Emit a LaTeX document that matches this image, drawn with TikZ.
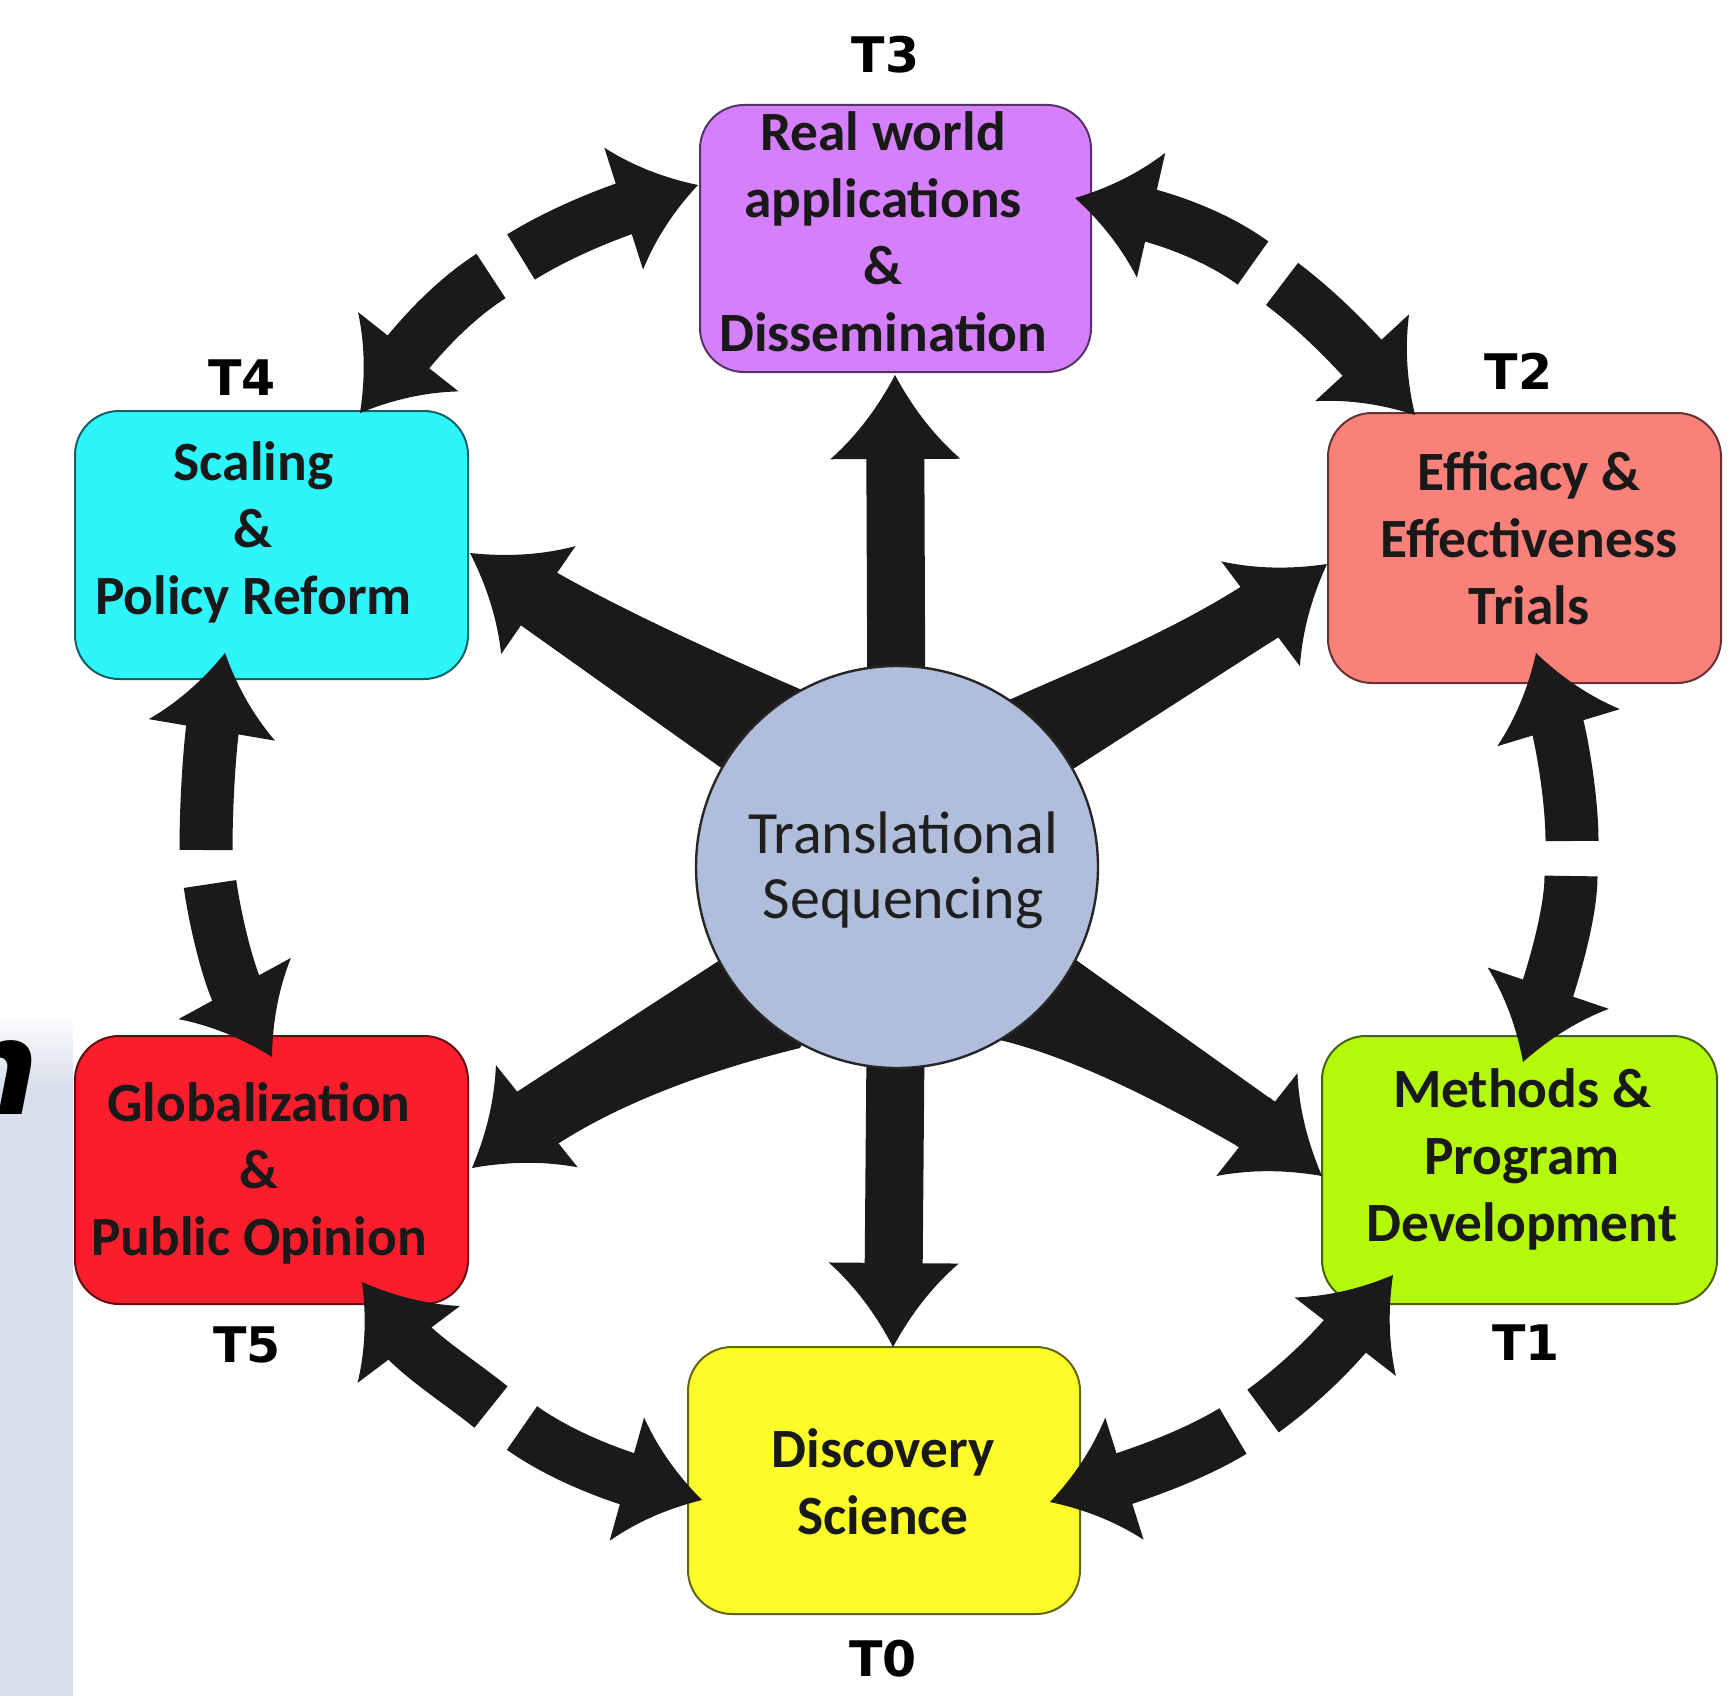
\documentclass[tikz,border=0pt]{standalone}
\usepackage{fontspec}
\setmainfont{Carlito}
\newfontfamily\tlabfont{DejaVu Sans}
\usetikzlibrary{arrows.meta}
\pgfdeclarelayer{boxlayer}
\pgfdeclarelayer{arrowlayer}
\pgfsetlayers{boxlayer,arrowlayer,main}
\definecolor{cpurple}{HTML}{D580FA}
\definecolor{ccyan}{HTML}{2EF5FA}
\definecolor{csalmon}{HTML}{FA807A}
\definecolor{cred}{HTML}{FA1E2D}
\definecolor{cgreen}{HTML}{B4F80A}
\definecolor{cyellow}{HTML}{FCFC28}
\definecolor{cblue}{HTML}{B0BEDC}
\definecolor{arrblk}{HTML}{1B191A}
\definecolor{sidebg}{HTML}{D8DFEA}
\pgfdeclarearrow{
  name = Swept,
  parameters = {\the\pgfarrowlength,\the\pgfarrowwidth},
  setup code = {
    \pgfarrowssettipend{0pt}
    \pgfarrowssetlineend{-.8\pgfarrowlength}
    \pgfarrowssetbackend{-\pgfarrowlength}
    \pgfarrowssavethe\pgfarrowlength
    \pgfarrowssavethe\pgfarrowwidth
  },
  drawing code = {
    \pgfpathmoveto{\pgfpointorigin}
    \pgfpathcurveto{\pgfpoint{-.35\pgfarrowlength}{.12\pgfarrowwidth}}{\pgfpoint{-.7\pgfarrowlength}{.28\pgfarrowwidth}}{\pgfpoint{-\pgfarrowlength}{.5\pgfarrowwidth}}
    \pgfpathlineto{\pgfpoint{-\pgfarrowlength}{-.5\pgfarrowwidth}}
    \pgfpathcurveto{\pgfpoint{-.7\pgfarrowlength}{-.28\pgfarrowwidth}}{\pgfpoint{-.35\pgfarrowlength}{-.12\pgfarrowwidth}}{\pgfpointorigin}
    \pgfpathclose
    \pgfusepathqfill
  },
  defaults = {length = 40pt, width = 64pt}
}
\newcommand\blines[1]{\begin{tabular}{@{}c@{}}#1\end{tabular}}
\tikzset{
  rbox/.style={draw=#1!40!black, fill=#1, line width=1pt, rounded corners=22pt, inner sep=0pt},
  btxt/.style={inner sep=0pt, text=black!90, font=\bfseries\fontsize{27.7}{33.5}\selectfont},
  ctxt/.style={inner sep=0pt, text=black!88, font=\fontsize{30}{32.5}\selectfont},
  tlab/.style={inner sep=0pt, text=black, font=\tlabfont\bfseries\fontsize{24.5}{28}\selectfont},
  outerarr/.style={color=arrblk, line width=26.5pt, -{Swept[length=39pt,width=64pt]}},
  cvert/.style={color=arrblk, line width=29pt, shorten <=-6pt, -{Swept[length=42pt,width=65pt]}},
  cdiag/.style={color=arrblk, line width=29pt, -{Swept[length=41.5pt,width=65.5pt]}},
  flare/.style={fill=arrblk},
}
\begin{document}
\begin{tikzpicture}[x=0.5pt,y=-0.5pt]
\useasboundingbox (0,0) rectangle (1728,1696);
\begin{pgfonlayer}{boxlayer}
  \fill[white] (0,0) rectangle (1728,1696);
  \fill[sidebg] (0,1089) rectangle (73,1696);
  \shade[top color=white, bottom color=sidebg] (0,1010) rectangle (73,1089);
  \node[rbox=cpurple, minimum width=195.5pt, minimum height=133.5pt] (t3) at (895.5,238.5) {};
  \node[rbox=ccyan, minimum width=196.5pt, minimum height=134pt] (t4) at (271.5,545) {};
  \node[rbox=csalmon, minimum width=196.5pt, minimum height=135pt] (t2) at (1524.5,548) {};
  \node[rbox=cred, minimum width=196.5pt, minimum height=134pt] (t5) at (271.5,1170) {};
  \node[rbox=cgreen, minimum width=197.5pt, minimum height=134pt] (t1) at (1519.5,1170) {};
  \node[rbox=cyellow, minimum width=196pt, minimum height=133.5pt] (t0) at (884,1480.5) {};
\end{pgfonlayer}

\node[circle, draw=black!85, line width=1.2pt, fill=cblue, minimum size=201pt, inner sep=0pt] (c) at (897,867) {};
\coordinate (cc) at (897,867);
\node[anchor=base east, inner sep=0pt, font=\tlabfont\bfseries\itshape\fontsize{66}{66}\selectfont] (nfrag) at (40,1114) {n};

\begin{pgfonlayer}{arrowlayer}
  % outer ring: T4 - T3
  \coordinate (a1g1) at (491,276); \coordinate (a1p1) at (360,413);
  \coordinate (a1g2) at (521,257); \coordinate (a1p2) at (698,185);
  \draw[outerarr] (a1g1) .. controls (449,303) and (416,342) .. (a1p1);
  \draw[outerarr] (a1g2) .. controls (563,231) and (613,212) .. (a1p2);
  % T3 - T2
  \coordinate (a2g1) at (1253,263); \coordinate (a2p1) at (1075,198);
  \coordinate (a2g2) at (1282,284); \coordinate (a2p2) at (1415,415);
  \draw[outerarr] (a2g1) .. controls (1213,234) and (1163,218) .. (a2p1);
  \draw[outerarr] (a2g2) .. controls (1322,314) and (1354,349) .. (a2p2);
  % T2 - T1
  \coordinate (a3g1) at (1572,841); \coordinate (a3p1) at (1536,653);
  \coordinate (a3g2) at (1571,876); \coordinate (a3p2) at (1523,1062);
  \draw[outerarr] (a3g1) .. controls (1572,800) and (1562,739) .. (a3p1);
  \draw[outerarr] (a3g2) .. controls (1571,915) and (1552,977) .. (a3p2);
  % T1 - T0
  \coordinate (a4g1) at (1263,1411); \coordinate (a4p1) at (1393,1275);
  \coordinate (a4g2) at (1233,1431); \coordinate (a4p2) at (1050,1502);
  \draw[outerarr] (a4g1) .. controls (1303,1382) and (1338,1346) .. (a4p1);
  \draw[outerarr] (a4g2) .. controls (1190,1457) and (1136,1475) .. (a4p2);
  % T0 - T5
  \coordinate (a5g1) at (491,1407); \coordinate (a5p1) at (362,1282);
  \coordinate (a5g2) at (522,1428); \coordinate (a5p2) at (702,1500);
  \draw[outerarr] (a5g1) .. controls (460,1382) and (416,1354) .. (a5p1);
  \draw[outerarr] (a5g2) .. controls (563,1457) and (616,1476) .. (a5p2);
  % T5 - T4
  \coordinate (a6g1) at (206,850); \coordinate (a6p1) at (225,653);
  \coordinate (a6g2) at (210,884); \coordinate (a6p2) at (272,1057);
  \draw[outerarr] (a6g1) .. controls (206,800) and (210,741) .. (a6p1);
  \draw[outerarr] (a6g2) .. controls (216,925) and (229,978) .. (a6p2);

  % central vertical arrows
  \coordinate (t3tip) at (895,375);
  \coordinate (t0tip) at (893,1347);
  \draw[cvert] (c) -- (t3tip);
  \draw[cvert] (c) -- (t0tip);

  % central diagonal arrows: to T4
  \coordinate (t4tip) at (470,553); \coordinate (t4m) at (544,604);
  \coordinate (t4u) at (547,567); \coordinate (t4l) at (512,619);
  \fill[flare] (t4u) .. controls (625,612) and (726,657) .. (802,690) -- (cc) -- (720,767) -- (t4l) -- cycle;
  \draw[cdiag] (t4m) -- (t4tip);
  % to T2
  \coordinate (t2tip) at (1327,564); \coordinate (t2m) at (1255,618);
  \coordinate (t2u) at (1250,581); \coordinate (t2l) at (1288,631);
  \fill[flare] (t2u) .. controls (1166,635) and (1082,667) .. (1009,700) -- (cc) -- (1073,769) -- (t2l) -- cycle;
  \draw[cdiag] (t2m) -- (t2tip);
  % to T5
  \coordinate (t5tip) at (472,1168); \coordinate (t5m) at (542,1112);
  \coordinate (t5u) at (512,1095); \coordinate (t5l) at (550,1149);
  \fill[flare] (t5u) -- (720,960) -- (cc) -- (800,1048) .. controls (722,1067) and (624,1099) .. (t5l) -- cycle;
  \draw[cdiag] (t5m) -- (t5tip);
  % to T1
  \coordinate (t1tip) at (1322,1176); \coordinate (t1m) at (1251,1120);
  \coordinate (t1u) at (1278,1104); \coordinate (t1l) at (1246,1151);
  \fill[flare] (t1u) -- (1076,960) -- (cc) -- (1000,1040) .. controls (1078,1059) and (1168,1106) .. (t1l) -- cycle;
  \draw[cdiag] (t1m) -- (t1tip);
\end{pgfonlayer}

% texts
\node[btxt] (t3txt) at (883,238) {\blines{Real world\\applications\\\&\\Dissemination}};
\node[btxt] (t4txt) at (253.5,533.6) {\blines{Scaling\\\&\\Policy Reform}};
\node[btxt] (t2txt) at (1529,543.6) {\blines{Efficacy \&\\Effectiveness\\Trials}};
\node[btxt] (t5txt) at (259,1175) {\blines{Globalization\\\&\\Public Opinion}};
\node[btxt] (t1txt) at (1522,1160.6) {\blines{Methods \&\\Program\\Development}};
\node[btxt] (t0txt) at (883,1488) {\blines{Discovery\\Science}};
\node[ctxt] (ctext) at (903,872.5) {\blines{Translational\\Sequencing}};

\node[tlab] (l3) at (885.5,55) {T3};
\node[tlab] (l4) at (242,378) {T4};
\node[tlab] (l2) at (1518.5,371.5) {T2};
\node[tlab] (l5) at (247,1345) {T5};
\node[tlab] (l1) at (1526,1343) {T1};
\node[tlab] (l0) at (883,1658.5) {T0};
\end{tikzpicture}
\end{document}
